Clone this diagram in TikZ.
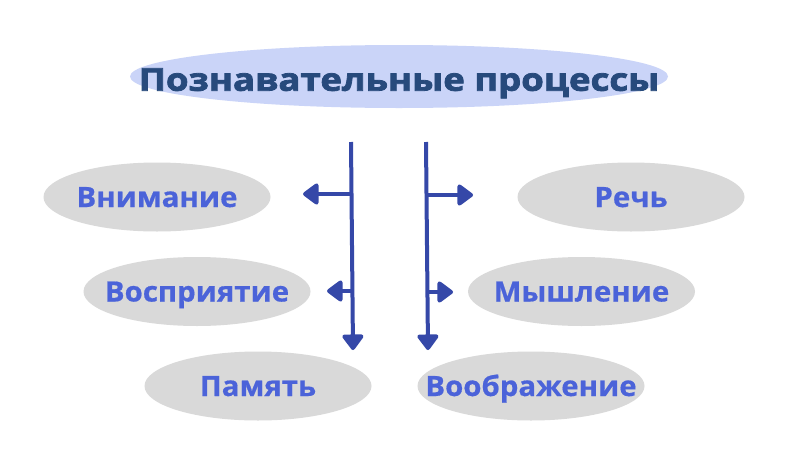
\documentclass[tikz,border=0pt]{standalone}
\usepackage{fontspec}
\setmainfont{Open Sans}
\newfontfamily\titlefont[FakeBold=2.5,FakeStretch=1.16]{Open Sans}
\newfontfamily\labelfont[FakeBold=0.6,FakeStretch=1.05]{Open Sans}
\usetikzlibrary{arrows.meta,shapes.geometric}
\definecolor{titlefill}{HTML}{CAD4F8}
\definecolor{titletext}{HTML}{274A7C}
\definecolor{grayfill}{HTML}{D9D9D9}
\definecolor{labeltext}{HTML}{4B63D9}
\definecolor{arrowcol}{HTML}{3548A8}
\newcommand{\centred}[1]{\smash{\makebox[0pt]{\raisebox{-0.357em}{#1}}}}
\begin{document}
\begin{tikzpicture}[x=1pt,y=-1pt,
  titlebox/.style={ellipse, fill=titlefill, minimum width=538pt, minimum height=63pt, inner sep=0pt,
    font=\fontsize{31.5}{32}\titlefont\bfseries, text=titletext},
  procbox/.style={ellipse, fill=grayfill, minimum width=227pt, minimum height=69pt, inner sep=0pt,
    font=\fontsize{28}{30}\labelfont\bfseries, text=labeltext},
  conn/.style={draw=arrowcol, line width=4pt, -{Triangle[width=24pt,length=17pt,round]}}
]
\useasboundingbox (0,0) rectangle (800,450);
\fill[white] (0,0) rectangle (800,450);
\node[titlebox] (title) at (399,76.5) {\centred{\raisebox{-3pt}{Познавательные процессы}}};
\node[procbox] (vnim) at (157,197) {\centred{Внимание}};
\node[procbox] (vosp) at (197,291.5) {\centred{Восприятие}};
\node[procbox] (pam) at (258,386) {\centred{Память}};
\node[procbox] (rech) at (631,197) {\centred{Речь}};
\node[procbox] (mysh) at (581.5,291.5) {\centred{Мышление}};
\node[procbox] (voob) at (531,386) {\centred{Воображение}};
\coordinate (ltop) at (351,142);
\coordinate (lend) at (353,350);
\coordinate (rtop) at (426,142);
\coordinate (rend) at (428,350);
\coordinate (l1) at (351,194);
\coordinate (l1t) at (303,194);
\coordinate (l2) at (352,291);
\coordinate (l2t) at (327,291);
\coordinate (r1) at (426,195);
\coordinate (r1t) at (473,195);
\coordinate (r2) at (427,292);
\coordinate (r2t) at (453,292);
\draw[conn] (ltop) -- (lend);
\draw[conn] (rtop) -- (rend);
\draw[conn] (l1) -- (l1t);
\draw[conn] (l2) -- (l2t);
\draw[conn] (r1) -- (r1t);
\draw[conn] (r2) -- (r2t);
\end{tikzpicture}
\end{document}
